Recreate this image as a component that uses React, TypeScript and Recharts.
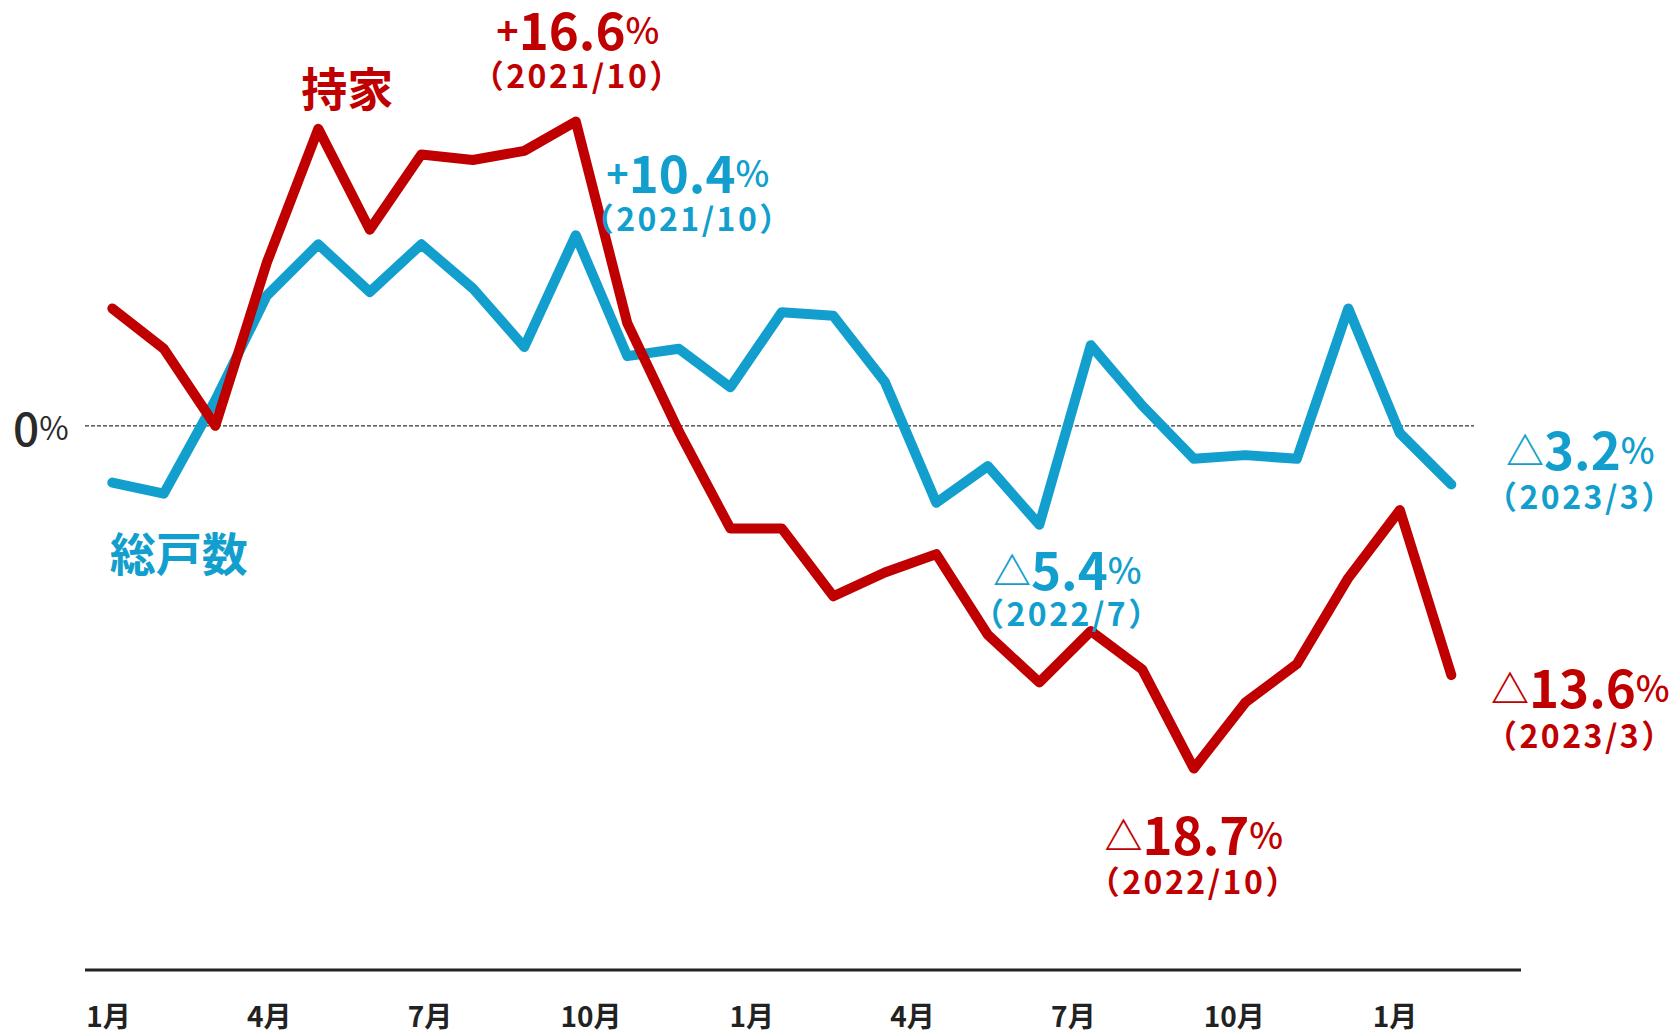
import React from 'react'
import { LineChart, Line, XAxis, YAxis, ReferenceLine, LabelList } from 'recharts'

/* 持家・総戸数 前年同月比の推移 (2021/1 – 2023/3) */

const months = [
  '2021/1', '2021/2', '2021/3', '2021/4', '2021/5', '2021/6', '2021/7', '2021/8', '2021/9',
  '2021/10', '2021/11', '2021/12', '2022/1', '2022/2', '2022/3', '2022/4', '2022/5', '2022/6',
  '2022/7', '2022/8', '2022/9', '2022/10', '2022/11', '2022/12', '2023/1', '2023/2', '2023/3',
]

// 持家
const ownedHomes = [
  6.4, 4.2, 0.0, 8.9, 16.2, 10.7, 14.8, 14.5, 15.0, 16.6, 5.6, -0.3, -5.6, -5.6,
  -9.3, -8.0, -7.0, -11.4, -14.0, -11.2, -13.3, -18.7, -15.1, -13.0, -8.3, -4.6, -13.6,
]

// 総戸数
const totalUnits = [
  -3.1, -3.7, 1.4, 7.1, 9.9, 7.3, 9.9, 7.5, 4.3, 10.4, 3.8, 4.2, 2.1, 6.2,
  6.0, 2.4, -4.2, -2.2, -5.4, 4.4, 1.1, -1.8, -1.6, -1.8, 6.4, -0.4, -3.2,
]

const tickMonths = [0, 3, 6, 9, 12, 15, 18, 21, 24]
const tickLabels = ['1月', '4月', '7月', '10月', '1月', '4月', '7月', '10月', '1月']

// 注記を付ける月 (index)
const ownedNotes = [9, 21, 26]
const totalNotes = [9, 18, 26]

const RED = '#C00000'
const BLUE = '#129FCE'
const FONT = '"Noto Sans CJK JP", "Noto Sans", sans-serif'

const rows = months.map((m, i) => ({ idx: i, month: m, owned: ownedHomes[i], total: totalUnits[i] }))

// 注記の位置 [dx, dy本文, dy日付]
const ownedOffsets: Record<number, [number, number, number]> = {
  9: [2, -94, -48],
  21: [0, 64, 111],
  26: [129, 11, 59],
}
const totalOffsets: Record<number, [number, number, number]> = {
  9: [112, -64, -18],
  18: [28, 43, 87],
  26: [129, -36, 11],
}

function NoteValue({ v }: { v: number }) {
  return (
    <>
      <tspan fontSize={38}>{v >= 0 ? '+' : '△'}</tspan>
      {Math.abs(v).toFixed(1)}
      <tspan fontSize={36} fontWeight={500}>%</tspan>
    </>
  )
}

function makeNotes(
  color: string,
  values: number[],
  noteAt: number[],
  offsets: Record<number, [number, number, number]>,
  name: string,
  nameAt: number,
  nameOff: [number, number],
) {
  return (props: any) => {
    const index = props.index
    const x = props.x ?? props.viewBox?.x
    const y = props.y ?? props.viewBox?.y
    if (x == null || y == null) return null
    if (index === nameAt) {
      return (
        <text
          x={x + nameOff[0]}
          y={y + nameOff[1]}
          textAnchor="middle"
          dominantBaseline="central"
          fontFamily={FONT}
          fontSize={46}
          fontWeight={700}
          fill={color}
        >
          {name}
        </text>
      )
    }
    if (!noteAt.includes(index)) return null
    const [dx, dy, dy2] = offsets[index]
    return (
      <g fontFamily={FONT} fill={color} textAnchor="middle">
        <text x={x + dx} y={y + dy} dominantBaseline="central" fontSize={51} fontWeight={700}>
          <NoteValue v={values[index]} />
        </text>
        <text
          x={x + dx}
          y={y + dy2}
          dominantBaseline="central"
          fontSize={32}
          fontWeight={700}
          letterSpacing={2.5}
        >
          {`（${months[index]}）`}
        </text>
      </g>
    )
  }
}

const AxisTick = (props: any) => {
  const { x, y, payload } = props
  const k = tickMonths.indexOf(payload.value)
  return (
    <text
      x={x}
      y={y + 45}
      textAnchor="middle"
      dominantBaseline="central"
      fontFamily={FONT}
      fontSize={28}
      fontWeight={700}
      fill="#222"
    >
      {tickLabels[k]}
    </text>
  )
}

const ZeroLabel = (props: any) => {
  const vb = props.viewBox || {}
  return (
    <text x={vb.x - 72} y={vb.y} dominantBaseline="central" fontFamily={FONT} fill="#2a2a2a">
      <tspan fontSize={46} fontWeight={500}>0</tspan>
      <tspan fontSize={32}>%</tspan>
    </text>
  )
}

export default function App() {
  return (
    <div style={{ position: 'absolute', left: 0, top: 0, width: 1671, height: 1035, background: '#fff' }}>
      <LineChart width={1671} height={1035} data={rows} margin={{ top: 0, right: 150, bottom: 5, left: 85 }}>
        <XAxis
          xAxisId="data"
          type="number"
          dataKey="idx"
          domain={[-0.53, 27.353]}
          allowDataOverflow
          height={0}
          hide
        />
        <XAxis
          xAxisId="lab"
          type="number"
          dataKey="idx"
          domain={[-0.438, 26.35]}
          allowDataOverflow
          ticks={tickMonths}
          interval={0}
          height={60}
          tickSize={0}
          tickMargin={0}
          tickLine={false}
          axisLine={{ stroke: '#222', strokeWidth: 3 }}
          tick={<AxisTick />}
        />
        <YAxis type="number" domain={[-29.69, 23.23]} allowDataOverflow hide />
        <ReferenceLine
          xAxisId="data"
          segment={[{ x: -0.53, y: 0 }, { x: 26.44, y: 0 }]}
          ifOverflow="visible"
          stroke="#333"
          strokeWidth={1.3}
          strokeDasharray="4 2"
          label={<ZeroLabel />}
        />
        <Line
          xAxisId="data"
          type="linear"
          dataKey="total"
          stroke={BLUE}
          strokeWidth={10}
          strokeLinejoin="round"
          strokeLinecap="round"
          dot={false}
          isAnimationActive={false}
        >
          <LabelList
            dataKey="total"
            content={makeNotes(BLUE, totalUnits, totalNotes, totalOffsets, '総戸数', 1, [15, 57])}
          />
        </Line>
        <Line
          xAxisId="data"
          type="linear"
          dataKey="owned"
          stroke={RED}
          strokeWidth={10}
          strokeLinejoin="round"
          strokeLinecap="round"
          dot={false}
          isAnimationActive={false}
        >
          <LabelList
            dataKey="owned"
            content={makeNotes(RED, ownedHomes, ownedNotes, ownedOffsets, '持家', 4, [29, -43])}
          />
        </Line>
      </LineChart>
    </div>
  )
}
